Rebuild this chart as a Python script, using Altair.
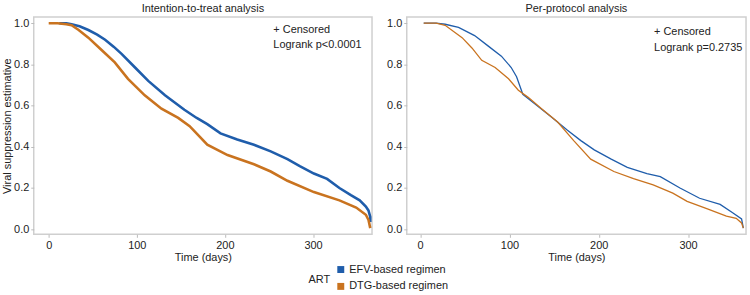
import altair as alt
import pandas as pd

groups = ["EFV-based regimen", "DTG-based regimen"]
colors = ["#1f5dab", "#c9731f"]

# Intention-to-treat
itt_efv_t = [12, 20, 26, 35, 45, 55, 64, 74, 83, 98, 113, 132, 154, 168, 180, 195, 214, 233, 252, 271, 285, 301, 316, 330, 343, 353, 360, 363, 365, 365]
itt_efv_s = [1.0, 1.0, 0.995, 0.985, 0.967, 0.945, 0.92, 0.885, 0.85, 0.785, 0.72, 0.65, 0.58, 0.54, 0.51, 0.465, 0.435, 0.41, 0.378, 0.34, 0.306, 0.27, 0.244, 0.20, 0.165, 0.14, 0.11, 0.09, 0.06, 0.035]
itt_dtg_t = [0, 10, 20, 26, 34, 45, 60, 75, 90, 109, 128, 147, 160, 180, 203, 233, 252, 271, 301, 330, 349, 360, 363, 365]
itt_dtg_s = [1.0, 1.0, 0.995, 0.99, 0.967, 0.93, 0.87, 0.81, 0.73, 0.65, 0.585, 0.54, 0.50, 0.41, 0.36, 0.315, 0.28, 0.235, 0.18, 0.14, 0.105, 0.07, 0.045, 0.005]

# Per-protocol
pp_efv_t = [4, 18, 28, 43, 61, 76, 91, 102, 108, 115, 128, 147, 165, 180, 195, 214, 232, 254, 269, 291, 313, 336, 350, 360, 362]
pp_efv_s = [1.0, 1.0, 0.995, 0.98, 0.94, 0.89, 0.84, 0.785, 0.74, 0.655, 0.61, 0.545, 0.48, 0.43, 0.385, 0.34, 0.30, 0.27, 0.255, 0.20, 0.15, 0.12, 0.08, 0.05, 0.005]
pp_dtg_t = [4, 18, 28, 47, 58, 69, 84, 99, 110, 121, 136, 154, 172, 191, 217, 239, 261, 283, 299, 321, 343, 354, 360, 362]
pp_dtg_s = [1.0, 1.0, 0.99, 0.93, 0.88, 0.82, 0.785, 0.73, 0.675, 0.64, 0.585, 0.52, 0.43, 0.34, 0.28, 0.245, 0.215, 0.175, 0.135, 0.10, 0.063, 0.053, 0.03, 0.005]

itt_notes = ["+ Censored", "Logrank p<0.0001"]
itt_note_t = [255, 255]
itt_note_s = [0.965, 0.895]
pp_notes = ["+ Censored", "Logrank p=0.2735"]
pp_note_t = [262, 262]
pp_note_s = [0.955, 0.88]

FONT = "Liberation Sans"


def frame(ts, ss, name):
    return pd.DataFrame({"t": ts, "s": ss, "ART": name})


def panel(efv_t, efv_s, dtg_t, dtg_s, notes, nt, ns, title, ytitle, sw, xdom, w):
    df = pd.concat([frame(efv_t, efv_s, groups[0]), frame(dtg_t, dtg_s, groups[1])])
    df["order"] = range(len(df))
    x = alt.X("t:Q", title="Time (days)",
              scale=alt.Scale(domain=xdom, nice=False, zero=False),
              axis=alt.Axis(values=[0, 100, 200, 300]))
    y = alt.Y("s:Q", title=ytitle,
              scale=alt.Scale(domain=[-0.025, 1.03], nice=False, zero=False),
              axis=alt.Axis(values=[0.0, 0.2, 0.4, 0.6, 0.8, 1.0], format=".1f"))
    lines = alt.Chart(df).mark_line(strokeWidth=sw).encode(
        x=x, y=y,
        color=alt.Color("ART:N", scale=alt.Scale(domain=groups, range=colors),
                        sort=groups,
                        legend=alt.Legend(orient="none", legendX=277, legendY=249,
                                          titleOrient="left", titleAnchor="middle",
                                          symbolType="square", symbolSize=9,
                                          symbolStrokeWidth=4, rowPadding=-2,
                                          titlePadding=5, labelOffset=3)),
        detail="ART:N",
        order="order:Q",
    )
    ndf = pd.DataFrame({"t": nt, "s": ns, "txt": notes})
    txt = alt.Chart(ndf).mark_text(align="left", baseline="middle", fontSize=11,
                                   font=FONT, color="#222").encode(
        x="t:Q", y="s:Q", text="txt:N")
    return alt.layer(lines, txt).properties(
        width=w, height=219,
        title=alt.TitleParams(title, fontSize=11, font=FONT, fontWeight="normal",
                              offset=3, color="#222"))


left = panel(itt_efv_t, itt_efv_s, itt_dtg_t, itt_dtg_s, itt_notes, itt_note_t, itt_note_s,
             "Intention-to-treat analysis", "Viral suppression estimative", 2.6, [-17, 367], 341)
right = panel(pp_efv_t, pp_efv_s, pp_dtg_t, pp_dtg_s, pp_notes, pp_note_t, pp_note_s,
              "Per-protocol analysis", None, 1.3, [-15, 365], 342)

chart = alt.hconcat(left, right, spacing=8).properties(
    padding={"left": 0, "top": 1, "right": 3, "bottom": 0}
).configure_view(
    stroke="#cfcfcf", strokeWidth=1.5
).configure_axis(
    grid=False, domain=False, tickColor="#bbbbbb", tickSize=3,
    labelFont=FONT, titleFont=FONT, labelFontSize=11, titleFontSize=11,
    labelColor="#222", titleColor="#222", titleFontWeight="normal",
    labelPadding=2, titlePadding=1
).configure_legend(
    labelFont=FONT, titleFont=FONT, labelFontSize=11, titleFontSize=11,
    titleFontWeight="normal", labelColor="#222", titleColor="#222"
)

chart.save("out.html", embed_options={"renderer": "svg", "actions": False})
